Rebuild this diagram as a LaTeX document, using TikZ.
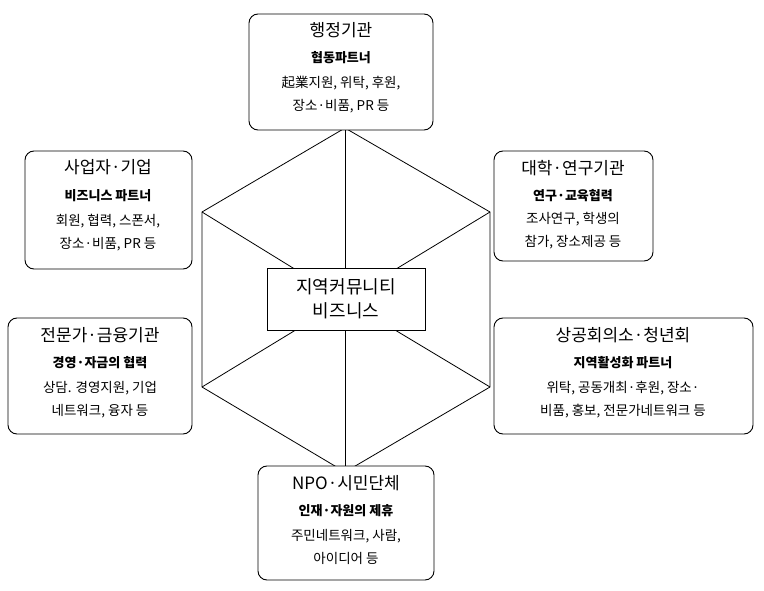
\documentclass[tikz,border=0pt]{standalone}
\usepackage{fontspec}
\setmainfont{Noto Sans CJK KR}
\begin{document}
\begin{tikzpicture}[x=1pt,y=-1pt,
  rbox/.style={draw=black,fill=white,rounded corners=9pt,line width=0.9pt},
  ttl/.style={font=\fontsize{17}{19}\selectfont},
  sub/.style={font=\fontsize{13}{15}\selectfont\bfseries},
  txt/.style={font=\fontsize{13.5}{23}\selectfont,align=center}]
\useasboundingbox (0,0) rectangle (764,591);
% hexagon
\coordinate (c) at (345,300);
\coordinate (v1) at (345,128);
\coordinate (v2) at (490,212);
\coordinate (v3) at (490,387);
\coordinate (v4) at (345,472);
\coordinate (v5) at (202,387);
\coordinate (v6) at (202,212);
\draw[line width=0.8pt] (v1)--(v2)--(v3)--(v4)--(v5)--(v6)--cycle;
\foreach \v in {v1,v2,v3,v4,v5,v6} \draw[line width=0.8pt] (c)--(\v);
\node[draw,fill=white,line width=0.9pt,minimum width=158pt,minimum height=62pt,align=center,font=\fontsize{18}{24}\selectfont] (ctr) at (346,299) {지역커뮤니티\\비즈니스};
% boxes
\draw[rbox] (249,14) rectangle (433,130);
\node[ttl] (t1) at (341,30) {행정기관};
\node[sub] (s1) at (341,58) {협동파트너};
\node[txt] (x1) at (341,95) {起業지원, 위탁, 후원,\\장소·비품, PR 등};

\draw[rbox] (494,151) rectangle (653,261);
\node[ttl] (t2) at (573,168) {대학·연구기관};
\node[sub] (s2) at (573,196) {연구·교육협력};
\node[txt] (x2) at (573,231) {조사연구, 학생의\\참가, 장소제공 등};

\draw[rbox] (494,318) rectangle (753,434);
\node[ttl] (t3) at (623,335) {상공회의소·청년회};
\node[sub] (s3) at (623,363) {지역활성화 파트너};
\node[txt] (x3) at (623,400) {위탁, 공동개최·후원, 장소·\\비품, 홍보, 전문가네트워크 등};

\draw[rbox] (258,466) rectangle (434,580);
\node[ttl] (t4) at (346,483) {NPO·시민단체};
\node[sub] (s4) at (346,511) {인재·자원의 제휴};
\node[txt] (x4) at (346,547) {주민네트워크, 사람,\\아이디어 등};

\draw[rbox] (8,318) rectangle (192,434);
\node[ttl] (t5) at (100,335) {전문가·금융기관};
\node[sub] (s5) at (100,363) {경영·자금의 협력};
\node[txt] (x5) at (100,400) {상담. 경영지원, 기업\\네트워크, 융자 등};

\draw[rbox] (25,151) rectangle (192,269);
\node[ttl] (t6) at (108,167) {사업자·기업};
\node[sub] (s6) at (108,196) {비즈니스 파트너};
\node[txt] (x6) at (108,233) {회원, 협력, 스폰서,\\장소·비품, PR 등};
\end{tikzpicture}
\end{document}
